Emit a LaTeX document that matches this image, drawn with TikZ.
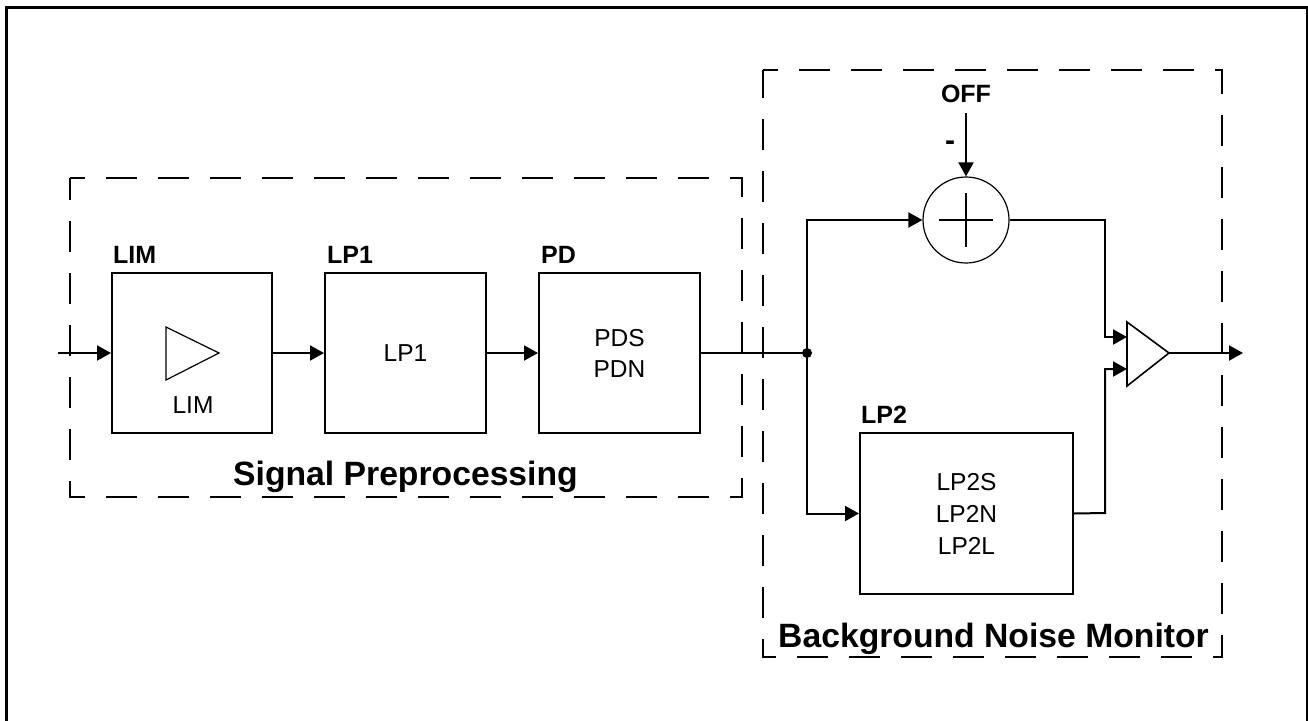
\documentclass[tikz,border=0pt]{standalone}
\usepackage{fontspec}
\setmainfont{Liberation Sans}
\usetikzlibrary{arrows.meta}
\tikzset{
  blk/.style={draw, line width=2pt, minimum width=161pt, minimum height=160pt, inner sep=0pt, font=\fontsize{24.5}{31}\selectfont, align=center},
  lbl/.style={font=\bfseries\fontsize{25}{28}\selectfont, anchor=base west, inner sep=0pt},
  ttl/.style={font=\bfseries\fontsize{33.7}{38}\selectfont, anchor=base west, inner sep=0pt},
  wire/.style={line width=2pt},
  arr/.style={wire, -{Triangle[length=14pt,width=15pt]}},
  grp/.style={line width=2.3pt, dash pattern=on 31pt off 21pt, dash phase=16pt},
}
\begin{document}
\begin{tikzpicture}[x=1pt,y=-1pt]
\useasboundingbox (0,0) rectangle (1308,720);
% outer frame
\draw[line width=2.5pt] (6.5,730) -- (6.5,7.5) -- (1307.5,7.5) -- (1307.5,730);
% group boxes
\draw[grp] (70,178) -- (742,178) -- (742,497) -- (70,497) -- cycle;
\draw[grp] (763,70) -- (1222,70) -- (1222,657) -- (763,657) -- cycle;
\node[ttl] (sptitle) at (233,485) {Signal Preprocessing};
\node[ttl] (bntitle) at (778,647) {Background Noise Monitor};
% blocks
\node[blk, minimum width=160pt] (lim) at (192,353) {};
\draw[line width=1.2pt] (166,327) -- (219,353) -- (166,380) -- cycle;
\node[font=\fontsize{24.5}{28}\selectfont, anchor=base, inner sep=0pt] (limtxt) at (193,413) {LIM};
\node[blk] (lp1) at (405.5,353) {LP1};
\node[blk] (pd) at (619.5,353) {PDS\\PDN};
\node[blk, minimum width=213pt, minimum height=161pt, font=\fontsize{24.5}{32}\selectfont] (lp2) at (966.5,513.5) {LP2S\\LP2N\\LP2L};
% labels
\node[lbl] (limlbl) at (113,263) {LIM};
\node[lbl] (lp1lbl) at (327,263) {LP1};
\node[lbl] (pdlbl) at (541,263) {PD};
\node[lbl] (lp2lbl) at (861,423) {LP2};
% summing junction
\node[draw, circle, line width=1.2pt, minimum size=86pt, inner sep=0pt] (sum) at (966,220) {};
\draw[line width=1.5pt] (939,220) -- (993,220) (966,193) -- (966,247);
\node[lbl, anchor=base] (off) at (966,102) {OFF};
\node[font=\bfseries\fontsize{30}{32}\selectfont, inner sep=0pt] (minus) at (950,146) {-};
\coordinate (offs) at (966,113);
% amplifier
\coordinate (amp1) at (1127,337);
\coordinate (amp2) at (1127,369);
\coordinate (ampo) at (1169,353);
\draw[line width=1.6pt] (1127,322) -- (ampo) -- (1127,386) -- cycle;
% connectors
\coordinate (in) at (58,353);
\coordinate (jn) at (807,353);
\coordinate (k1) at (1105,220);
\coordinate (k2) at (1105,513);
\coordinate (out) at (1243,353);
\draw[arr] (in) -- (lim.west);
\draw[arr] (lim.east) -- (lp1.west);
\draw[arr] (lp1.east) -- (pd.west);
\draw[wire] (pd.east) -- (jn);
\fill (jn) circle (5pt);
\draw[arr] (jn) |- (sum.west);
\draw[arr] (jn) |- (lp2.west);
\draw[arr] (offs) -- (sum.north);
\draw[arr] (sum.east) -- (k1) |- (amp1);
\draw[arr] (lp2.east) -- (k2) |- (amp2);
\draw[arr] (ampo) -- (out);
\end{tikzpicture}
\end{document}
